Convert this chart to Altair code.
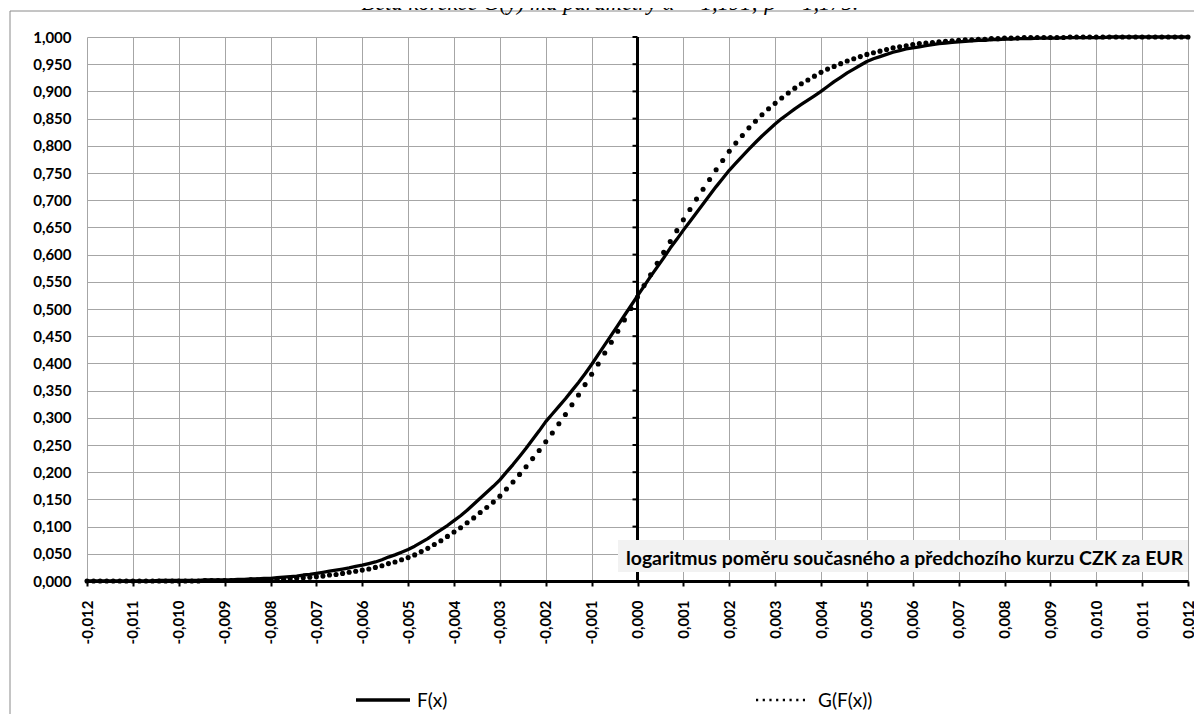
import altair as alt
import pandas as pd

# ---------------- data ----------------
x_vals = [
    -0.012000, -0.011857, -0.011714, -0.011571, -0.011429, -0.011286, -0.011143,
    -0.011000, -0.010857, -0.010714, -0.010571, -0.010429, -0.010286, -0.010143,
    -0.010000, -0.009857, -0.009714, -0.009571, -0.009429, -0.009286, -0.009143,
    -0.009000, -0.008857, -0.008714, -0.008571, -0.008429, -0.008286, -0.008143,
    -0.008000, -0.007857, -0.007714, -0.007571, -0.007429, -0.007286, -0.007143,
    -0.007000, -0.006857, -0.006714, -0.006571, -0.006429, -0.006286, -0.006143,
    -0.006000, -0.005857, -0.005714, -0.005571, -0.005429, -0.005286, -0.005143,
    -0.005000, -0.004857, -0.004714, -0.004571, -0.004429, -0.004286, -0.004143,
    -0.004000, -0.003857, -0.003714, -0.003571, -0.003429, -0.003286, -0.003143,
    -0.003000, -0.002857, -0.002714, -0.002571, -0.002429, -0.002286, -0.002143,
    -0.002000, -0.001857, -0.001714, -0.001571, -0.001429, -0.001286, -0.001143,
    -0.001000, -0.000857, -0.000714, -0.000571, -0.000429, -0.000286, -0.000143,
    0.000000, 0.000143, 0.000286, 0.000429, 0.000571, 0.000714, 0.000857,
    0.001000, 0.001143, 0.001286, 0.001429, 0.001571, 0.001714, 0.001857,
    0.002000, 0.002143, 0.002286, 0.002429, 0.002571, 0.002714, 0.002857,
    0.003000, 0.003143, 0.003286, 0.003429, 0.003571, 0.003714, 0.003857,
    0.004000, 0.004143, 0.004286, 0.004429, 0.004571, 0.004714, 0.004857,
    0.005000, 0.005143, 0.005286, 0.005429, 0.005571, 0.005714, 0.005857,
    0.006000, 0.006143, 0.006286, 0.006429, 0.006571, 0.006714, 0.006857,
    0.007000, 0.007143, 0.007286, 0.007429, 0.007571, 0.007714, 0.007857,
    0.008000, 0.008143, 0.008286, 0.008429, 0.008571, 0.008714, 0.008857,
    0.009000, 0.009143, 0.009286, 0.009429, 0.009571, 0.009714, 0.009857,
    0.010000, 0.010143, 0.010286, 0.010429, 0.010571, 0.010714, 0.010857,
    0.011000, 0.011143, 0.011286, 0.011429, 0.011571, 0.011714, 0.011857,
    0.012000,
]

f_vals = [
    0.000, 0.000, 0.000, 0.000, 0.000, 0.000, 0.000,
    0.000, 0.000, 0.000, 0.000, 0.001, 0.001, 0.001,
    0.001, 0.001, 0.001, 0.001, 0.002, 0.002, 0.002,
    0.002, 0.002, 0.003, 0.003, 0.004, 0.004, 0.005,
    0.005, 0.006, 0.007, 0.008, 0.009, 0.011, 0.012,
    0.014, 0.016, 0.018, 0.020, 0.022, 0.024, 0.027,
    0.029, 0.032, 0.035, 0.039, 0.044, 0.048, 0.053,
    0.058, 0.064, 0.071, 0.078, 0.086, 0.094, 0.102,
    0.111, 0.120, 0.130, 0.141, 0.152, 0.163, 0.174,
    0.186, 0.200, 0.214, 0.229, 0.244, 0.260, 0.276,
    0.293, 0.307, 0.321, 0.335, 0.350, 0.365, 0.381,
    0.398, 0.416, 0.434, 0.452, 0.470, 0.488, 0.506,
    0.524, 0.542, 0.560, 0.577, 0.594, 0.612, 0.628,
    0.645, 0.661, 0.677, 0.693, 0.709, 0.725, 0.740,
    0.755, 0.768, 0.781, 0.794, 0.806, 0.818, 0.829,
    0.840, 0.850, 0.859, 0.868, 0.876, 0.884, 0.892,
    0.900, 0.909, 0.918, 0.926, 0.934, 0.941, 0.948,
    0.955, 0.960, 0.964, 0.968, 0.972, 0.975, 0.978,
    0.980, 0.982, 0.984, 0.986, 0.988, 0.989, 0.990,
    0.991, 0.992, 0.993, 0.994, 0.994, 0.995, 0.995,
    0.996, 0.996, 0.997, 0.997, 0.997, 0.998, 0.998,
    0.998, 0.998, 0.999, 0.999, 0.999, 0.999, 0.999,
    0.999, 0.999, 1.000, 1.000, 1.000, 1.000, 1.000,
    1.000, 1.000, 1.000, 1.000, 1.000, 1.000, 1.000,
    1.000,
]

g_vals = [
    0.000, 0.000, 0.000, 0.000, 0.000, 0.000, 0.000,
    0.000, 0.000, 0.000, 0.000, 0.000, 0.000, 0.000,
    0.000, 0.000, 0.000, 0.000, 0.001, 0.001, 0.001,
    0.001, 0.001, 0.001, 0.001, 0.002, 0.002, 0.002,
    0.002, 0.003, 0.003, 0.004, 0.005, 0.006, 0.007,
    0.008, 0.009, 0.011, 0.012, 0.014, 0.016, 0.018,
    0.020, 0.022, 0.025, 0.028, 0.032, 0.035, 0.039,
    0.043, 0.048, 0.054, 0.060, 0.067, 0.074, 0.082,
    0.090, 0.098, 0.107, 0.116, 0.126, 0.135, 0.145,
    0.156, 0.169, 0.182, 0.196, 0.210, 0.225, 0.240,
    0.256, 0.272, 0.289, 0.306, 0.324, 0.342, 0.361,
    0.380, 0.399, 0.419, 0.439, 0.459, 0.480, 0.501,
    0.522, 0.543, 0.563, 0.584, 0.604, 0.624, 0.644,
    0.664, 0.683, 0.702, 0.720, 0.738, 0.756, 0.773,
    0.790, 0.805, 0.819, 0.833, 0.845, 0.857, 0.868,
    0.878, 0.888, 0.897, 0.906, 0.914, 0.921, 0.928,
    0.935, 0.941, 0.946, 0.951, 0.956, 0.960, 0.964,
    0.968, 0.971, 0.974, 0.977, 0.980, 0.982, 0.984,
    0.986, 0.988, 0.989, 0.990, 0.991, 0.992, 0.993,
    0.994, 0.995, 0.995, 0.996, 0.996, 0.997, 0.997,
    0.998, 0.998, 0.998, 0.999, 0.999, 0.999, 0.999,
    0.999, 0.999, 0.999, 1.000, 1.000, 1.000, 1.000,
    1.000, 1.000, 1.000, 1.000, 1.000, 1.000, 1.000,
    1.000, 1.000, 1.000, 1.000, 1.000, 1.000, 1.000,
    1.000,
]

x_ticks = [-0.012, -0.011, -0.010, -0.009, -0.008, -0.007, -0.006, -0.005,
           -0.004, -0.003, -0.002, -0.001, 0.000, 0.001, 0.002, 0.003,
           0.004, 0.005, 0.006, 0.007, 0.008, 0.009, 0.010, 0.011, 0.012]
y_ticks = [0.00, 0.05, 0.10, 0.15, 0.20, 0.25, 0.30, 0.35, 0.40, 0.45, 0.50,
           0.55, 0.60, 0.65, 0.70, 0.75, 0.80, 0.85, 0.90, 0.95, 1.00]

title_text = "Beta korekce G(y) má parametry α = 1,191; β = 1,175."
axis_title = "logaritmus poměru současného a předchozího kurzu CZK za EUR"
series_names = ["F(x)", "G(F(x))"]

# ---------------- chart ----------------
W, H = 1101, 544
df = pd.DataFrame({"x": x_vals, "F": f_vals, "G": g_vals})

xs = alt.Scale(domain=[-0.012, 0.012], nice=False, zero=False)
ys = alt.Scale(domain=[0, 1], nice=False, zero=False)
lab = "replace(replace(format(datum.value, '.3f'), '.', ','), '\u2212', '-')"
GRID = "#a6a6a6"

x_axis = alt.Axis(values=x_ticks, labelExpr=lab, labelAngle=-90, labelFont="Lato",
                  labelFontSize=15, labelFontWeight="bold", labelColor="black",
                  labelPadding=14, labelOverlap=False, labelFlush=False,
                  tickColor="black", tickSize=5, tickWidth=2,
                  domainColor="black", domainWidth=3,
                  grid=True, gridColor=GRID, gridWidth=1, title=None)
y_axis = alt.Axis(values=y_ticks, labelExpr=lab, labelFont="Lato", labelFontSize=15,
                  labelFontWeight="bold", labelColor="black", labelPadding=16,
                  labelOverlap=False, labelFlush=False, domain=False, ticks=False,
                  grid=True, gridColor=GRID, gridWidth=1, title=None)

X = lambda f: alt.X(f, type="quantitative", scale=xs, axis=x_axis)
Y = lambda f: alt.Y(f, type="quantitative", scale=ys, axis=y_axis)

frame = alt.Chart(pd.DataFrame({"k": [0]})).mark_rect(
    fillOpacity=0, stroke="#8a8a8a", strokeWidth=1
).encode(x=alt.value(-77), y=alt.value(-26), x2=alt.value(1200), y2=alt.value(800))

title = alt.Chart(pd.DataFrame({"t": [title_text]})).mark_text(
    font="Liberation Serif", fontStyle="italic", fontSize=22.5, align="center",
    baseline="alphabetic", color="black"
).encode(x=alt.value(523), y=alt.value(-27), text="t:N")

f_line = alt.Chart(df).mark_line(color="black", strokeWidth=3.3, strokeJoin="round").encode(
    x=X("x"), y=Y("F"))
g_pts = alt.Chart(df).mark_circle(color="black", size=26, opacity=1).encode(
    x=X("x"), y=Y("G"))

vaxis_df = pd.DataFrame({"x0": [0.0], "y0": [0.0], "y1": [1.0]})
vaxis = alt.Chart(vaxis_df).mark_rule(color="black", strokeWidth=3).encode(
    x=X("x0"), y=Y("y0"), y2="y1:Q")
vticks_df = pd.DataFrame({"x0": [0.0] * len(y_ticks), "y": y_ticks})
vticks = alt.Chart(vticks_df).mark_rule(color="black", strokeWidth=2, x2Offset=-5).encode(
    x=X("x0"), x2="x0:Q", y=Y("y"))

box = alt.Chart(pd.DataFrame({"k": [0]})).mark_rect(fill="#f2f2f2").encode(
    x=alt.value(531), x2=alt.value(1101), y=alt.value(503), y2=alt.value(535))
box_text = alt.Chart(pd.DataFrame({"t": [axis_title]})).mark_text(
    font="Lato", fontWeight="bold", fontSize=19.4, align="left", baseline="alphabetic",
    color="black"
).encode(x=alt.value(539), y=alt.value(528), text="t:N")

leg_f = alt.Chart(pd.DataFrame({"k": [0]})).mark_rule(color="black", strokeWidth=3.3).encode(
    x=alt.value(269), x2=alt.value(323), y=alt.value(663))
leg_g = alt.Chart(pd.DataFrame({"k": [0]})).mark_rule(
    color="black", strokeWidth=2.3, strokeDash=[2.2, 4.5]
).encode(x=alt.value(669), x2=alt.value(718), y=alt.value(663))
leg_text = alt.Chart(pd.DataFrame({"t": series_names, "px": [330, 731]})).mark_text(
    font="Lato", fontSize=19, align="left", baseline="middle", color="black"
).encode(x=alt.X("px:Q", scale=None), y=alt.value(664), text="t:N")

chart = alt.layer(
    frame, title, f_line, g_pts, vaxis, vticks, box, box_text, leg_f, leg_g, leg_text
).properties(
    width=W, height=H,
    autosize=alt.AutoSizeParams(type="none"),
    padding={"left": 79, "top": 29, "right": 6, "bottom": 133},
    background="white",
).configure_view(stroke=None)

chart.save("out.html", embed_options={"renderer": "svg", "actions": False})
